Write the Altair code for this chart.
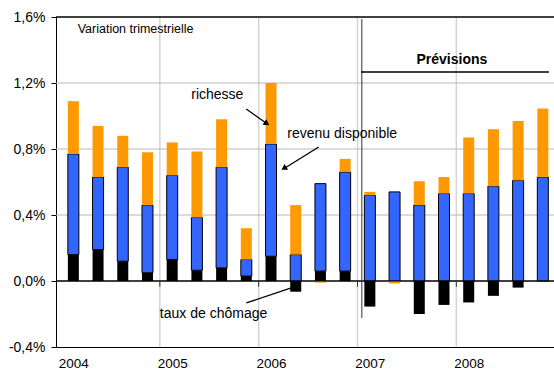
import altair as alt
import pandas as pd

# Quarterly contributions (percentage points) to the change in consumption
trimestres = [
    "2004T1", "2004T2", "2004T3", "2004T4",
    "2005T1", "2005T2", "2005T3", "2005T4",
    "2006T1", "2006T2", "2006T3", "2006T4",
    "2007T1", "2007T2", "2007T3", "2007T4",
    "2008T1", "2008T2", "2008T3", "2008T4",
]
chomage = [0.16, 0.19, 0.12, 0.05, 0.13, 0.065, 0.08, 0.03, 0.15, -0.065,
           0.06, 0.06, -0.155, 0.0, -0.20, -0.145, -0.13, -0.09, -0.04, 0.0]
revenu = [0.61, 0.44, 0.57, 0.41, 0.51, 0.32, 0.61, 0.10, 0.68, 0.16,
          0.53, 0.60, 0.52, 0.54, 0.46, 0.53, 0.53, 0.575, 0.61, 0.63]
richesse = [0.32, 0.31, 0.19, 0.32, 0.20, 0.40, 0.29, 0.19, 0.37, 0.30,
            -0.01, 0.08, 0.02, -0.015, 0.145, 0.10, 0.34, 0.345, 0.36, 0.415]

annees = ["2004", "2005", "2006", "2007", "2008"]
series = ["taux de chômage", "revenu disponible", "richesse"]
couleurs = ["#000000", "#3366FF", "#FF9900"]
y_ticks = [-0.4, 0.0, 0.4, 0.8, 1.2, 1.6]

rows = []
for i, t in enumerate(trimestres):
    for k, (nom, vals) in enumerate(zip(series, [chomage, revenu, richesse])):
        rows.append({"trimestre": t, "pos": i + 0.5, "serie": nom,
                     "ordre": k, "valeur": vals[i]})
df = pd.DataFrame(rows)

FONT = "Liberation Sans"
X_MAX = 19.75
xs = alt.Scale(domain=[0, X_MAX], nice=False, zero=False)
ys = alt.Scale(domain=[-0.4, 1.6], nice=False, zero=False)

annees_expr = "[" + ",".join("'%s'" % a for a in annees) + "][floor(datum.value / 4)]"
pct_expr = ("(datum.value < 0 ? '-' : '') + "
            "replace(format(abs(datum.value), '.1f'), '.', ',') + '%'")

xaxis = alt.Axis(values=[0.5 + 4 * k for k in range(len(annees))],
                 labelExpr=annees_expr, ticks=False, grid=False,
                 domainColor="#000000", domainWidth=1,
                 labelFont=FONT, labelFontSize=13.5, labelColor="#000000",
                 labelPadding=9, labelBaseline="top")
yaxis = alt.Axis(values=y_ticks, labelExpr=pct_expr, grid=False,
                 tickSize=5, tickColor="#000000", domainColor="#000000",
                 labelFont=FONT, labelFontSize=14, labelColor="#000000",
                 labelPadding=6)


def X(field):
    return alt.X(field, scale=xs, axis=xaxis, title=None)


def Y(field, **kw):
    return alt.Y(field, scale=ys, axis=yaxis, title=None, **kw)


bars = alt.Chart(df).mark_bar(size=11, stroke="#000000").encode(
    x=X("pos:Q"),
    y=Y("valeur:Q", stack="zero"),
    color=alt.Color("serie:N", scale=alt.Scale(domain=series, range=couleurs), legend=None),
    order=alt.Order("ordre:Q"),
    strokeWidth=alt.condition(alt.datum.serie == "revenu disponible",
                              alt.value(1), alt.value(0)),
)

# horizontal grid
hgrid = alt.Chart(pd.DataFrame({"v": [0.4, 0.8, 1.2]})).mark_rule(
    color="#b8b8b8", strokeWidth=1).encode(y=Y("v:Q"))

# year separators
vgrid = alt.Chart(pd.DataFrame({"q": [4, 8, 12, 16]})).mark_rule(
    color="#d4d4d4", strokeWidth=1.5).encode(x=X("q:Q"))

# top frame line and zero line
frame = alt.Chart(pd.DataFrame({"v": [1.6, 0.0]})).mark_rule(
    color="#000000", strokeWidth=1).encode(y=Y("v:Q"))

# small ticks under the zero line at each year boundary
zticks = alt.Chart(pd.DataFrame({"q": [4, 8, 12, 16], "a": 0.0, "b": -0.035})).mark_rule(
    color="#333333", strokeWidth=1).encode(x=X("q:Q"), y=Y("a:Q"), y2="b:Q")

# forecast marker
prev_v = alt.Chart(pd.DataFrame({"q": [12.175], "a": [1.588], "b": [-0.224]})).mark_rule(
    color="#333333", strokeWidth=1).encode(x=X("q:Q"), y=Y("a:Q"), y2="b:Q")
prev_h = alt.Chart(pd.DataFrame({"q": [12.14], "q2": [X_MAX], "v": [1.267]})).mark_rule(
    color="#000000", strokeWidth=1.5).encode(x=X("q:Q"), x2="q2:Q", y=Y("v:Q"))

# annotation texts
labels = pd.DataFrame({
    "q": [0.674, 5.27, 9.16, 4.0],
    "v": [1.503, 1.103, 0.867, -0.224],
    "t": ["Variation trimestrielle", "richesse", "revenu disponible", "taux de chômage"],
    "fs": [12.5, 14, 14, 14],
})
texts = alt.Chart(labels).mark_text(
    font=FONT, align="left", baseline="alphabetic", color="#000000").encode(
    x=X("q:Q"), y=Y("v:Q"), text="t:N",
    size=alt.Size("fs:Q", scale=None, legend=None))

prev_t = alt.Chart(pd.DataFrame({"q": [15.82], "v": [1.315], "t": ["Prévisions"]})).mark_text(
    font=FONT, fontSize=14, fontWeight="bold", align="center",
    baseline="alphabetic", color="#000000").encode(x=X("q:Q"), y=Y("v:Q"), text="t:N")

# leader lines and arrow heads
leaders = pd.DataFrame({
    "q": [7.50, 10.43, 7.50],
    "v": [1.042, 0.812, -0.133],
    "q2": [8.31, 9.03, 9.32],
    "v2": [0.956, 0.682, -0.042],
})
lines = alt.Chart(leaders).mark_rule(color="#000000", strokeWidth=1.3).encode(
    x=X("q:Q"), x2="q2:Q", y=Y("v:Q"), y2="v2:Q")

heads = alt.Chart(pd.DataFrame({
    "q": [8.33, 9.02], "v": [0.954, 0.683], "ang": [125, 239],
})).mark_point(shape="triangle-up", filled=True, size=45, color="#000000", opacity=1).encode(
    x=X("q:Q"), y=Y("v:Q"), angle=alt.Angle("ang:Q", scale=None))

chart = alt.layer(
    vgrid, hgrid, frame, bars, frame, zticks, prev_v, prev_h,
    texts, prev_t, lines, heads,
).properties(
    width=498, height=330,
    autosize=alt.AutoSizeParams(type="none"),
    padding={"left": 56, "top": 17, "right": 0, "bottom": 23},
    background="#ffffff",
).configure_view(strokeWidth=0)

chart.save("out.html", embed_options={"renderer": "svg", "actions": False})
